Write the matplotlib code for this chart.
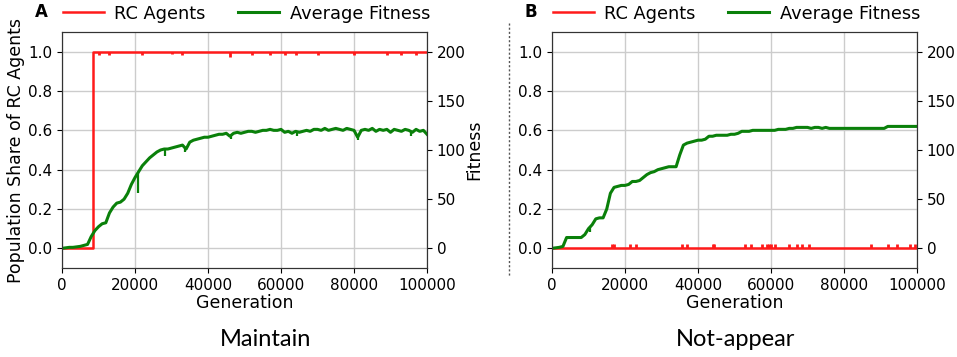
import matplotlib
matplotlib.use('Agg')
import matplotlib.pyplot as plt
import numpy as np

# generations sampled every 1000
gens = np.arange(0, 100001, 1000)

# panel A: average fitness (fitness units)
fit_a = [0, 0.5, 1, 1, 1.5, 2, 3, 4, 12, 18, 22, 25, 26, 36, 42, 46, 47, 50, 56, 65,
         72, 78, 84, 88, 92, 95, 98, 100, 101, 101, 102, 103, 104, 105, 101, 108, 110, 111, 112, 113,
         113, 114, 115, 116, 116, 117, 114, 117, 118, 117, 118, 119, 119, 118, 119, 120, 120, 121, 120, 120,
         121, 118, 119, 117, 119, 118, 119, 120, 119, 121, 121, 120, 122, 120, 121, 122, 121, 120, 122, 121,
         120, 113, 120, 121, 120, 122, 119, 121, 120, 121, 118, 121, 120, 119, 121, 120, 118, 121, 119, 120,
         116]
# narrow fitness dips read in panel A (generation, fitness at bottom of dip)
dip_gens_a = [20800, 28300, 33800, 46200, 64500, 81200, 95500]
dip_vals_a = [56, 94, 98, 111, 114, 110, 114]

# panel A: share of RC agents, jumps to 1 at takeover
takeover_a = 8500
red_dip_gens_a = [10000, 13000, 22000, 30000, 33000, 46000, 52000, 57000, 61000, 64000,
                  70000, 80000, 89000, 93000, 97000]
red_dip_vals_a = [0.985, 0.985, 0.985, 0.99, 0.985, 0.975, 0.985, 0.985, 0.985, 0.985,
                  0.985, 0.985, 0.985, 0.985, 0.985]

# panel B: average fitness
fit_b = [0, 0.5, 1, 2, 11, 11, 11, 11, 11, 14, 20, 24, 30, 31, 31, 40, 56, 62, 63, 64,
         64, 65, 68, 68, 69, 72, 75, 77, 78, 80, 81, 82, 83, 83, 83, 95, 105, 107, 108, 109,
         110, 110, 111, 114, 114, 115, 115, 115, 115, 116, 116, 117, 119, 119, 119, 120, 120, 120, 120, 120,
         120, 120, 121, 121, 121, 122, 122, 123, 123, 123, 123, 122, 123, 123, 122, 123, 122, 122, 122, 122,
         122, 122, 122, 122, 122, 122, 122, 122, 122, 122, 122, 122, 124, 124, 124, 124, 124, 124, 124, 124,
         124]
dip_gens_b = [10500]
dip_vals_b = [17]

# panel B: share of RC agents stays at zero with brief spikes
spikes_b = [16500, 17000, 21500, 23000, 35500, 37000, 44000, 44500, 53000, 54500, 57500,
            59000, 59500, 60000, 61000, 65000, 67000, 68500, 70500, 87500, 92000, 94500,
            98000, 99500]
spike_height = 0.02

plt.rcParams['font.family'] = 'DejaVu Sans'
fig = plt.figure(figsize=(9.57, 3.57), dpi=100)

RED = '#ff1a1a'
GREEN = '#0a800a'


def make_panel(left, letter, fit, dip_g, dip_v, title, title_x, labels, red_line, red_dg, red_dv, red_base):
    ax = fig.add_axes([left, 0.2493, 0.3814, 0.661])
    ax.plot(red_line[0], red_line[1], color=RED, lw=1.8, label='RC Agents')
    if red_dg:
        ax.vlines(red_dg, red_dv, red_base, color=RED, lw=2)
    ax.set_xlim(0, 100000)
    ax.set_ylim(-0.1, 1.1)
    ax.set_xticks(range(0, 100001, 20000))
    ax.set_yticks([0.0, 0.2, 0.4, 0.6, 0.8, 1.0])
    ax.grid(True, color='#cccccc', lw=1)
    ax.set_axisbelow(True)
    ax.set_xlabel('Generation', fontsize=12.5, labelpad=1)
    ax.tick_params(labelsize=11)

    ax2 = ax.twinx()
    ax2.plot(gens, fit, color=GREEN, lw=2.2, label='Average Fitness')
    if dip_g:
        ax2.vlines(dip_g, dip_v, np.interp(dip_g, gens, fit), color=GREEN, lw=1.6)
    ax2.set_ylim(-20, 220)
    ax2.set_yticks([0, 50, 100, 150, 200])
    ax2.tick_params(labelsize=11)

    for a in (ax, ax2):
        for s in a.spines.values():
            s.set_color('#333333')

    if labels:
        ax.set_ylabel('Population Share of RC Agents', fontsize=12.5, labelpad=2)
        ax2.set_ylabel('Fitness', fontsize=12.5, labelpad=0)

    h1, l1 = ax.get_legend_handles_labels()
    h2, l2 = ax2.get_legend_handles_labels()
    ax.legend(h1 + h2, l1 + l2, ncol=2, loc='lower left', bbox_to_anchor=(-0.008, 1.025),
              frameon=False, fontsize=12.8, handlelength=2.3, handletextpad=0.6,
              columnspacing=1.85, borderaxespad=0, borderpad=0.2)
    fig.text(left - 0.022, 0.965, letter, fontsize=12, fontweight='bold', ha='center', va='center')
    fig.text(title_x, 0.048, title, fontsize=17, ha='center', va='center', family='Lato')
    return ax


red_a = ([0, takeover_a, takeover_a, 100000], [0, 0, 1.0, 1.0])
make_panel(0.0648, 'A', fit_a, dip_gens_a, dip_vals_a, 'Maintain', 266 / 957, True,
           red_a, red_dip_gens_a, red_dip_vals_a, 1.0)

red_b = ([0, 100000], [0, 0])
make_panel(0.5768, 'B', fit_b, dip_gens_b, dip_vals_b, 'Not-appear', 736 / 957, False,
           red_b, spikes_b, [spike_height] * len(spikes_b), 0.0)

fig.add_artist(plt.Line2D([509 / 957, 509 / 957], [1 - 23 / 357, 1 - 277 / 357],
                          transform=fig.transFigure, color='#555555', lw=1, ls=(0, (1.5, 1.5))))

fig.savefig('out.png', dpi=100)
